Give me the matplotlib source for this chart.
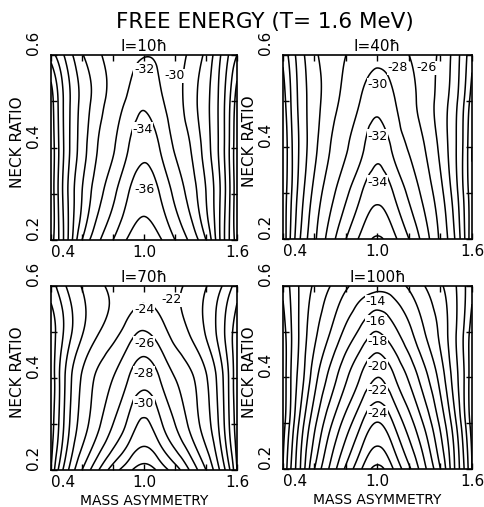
import numpy as np
import matplotlib
matplotlib.use("Agg")
import matplotlib.pyplot as plt
import matplotlib.tri as mtri

# grid (mass asymmetry across, neck ratio up)
mass_asym = [0.4, 0.45, 0.5, 0.6, 0.7, 0.8, 0.9, 1.0, 1.1, 1.2, 1.3, 1.4, 1.5, 1.55, 1.6]
neck_ratio = [0.2, 0.3, 0.4, 0.5, 0.6]

# free energy (MeV), one row per neck ratio value
energy_I10 = [
    [-17, -20, -23.3, -30, -33.5, -36, -38.3, -39.2, -38.3, -36, -33.5, -30, -23.3, -20, -17],
    [-16.5, -20.3, -23.5, -28, -31.2, -33.5, -36, -37.3, -36, -33.5, -31.2, -28, -23.5, -20.3, -16.5],
    [-16.5, -20, -23, -27, -30, -31.8, -34, -35.4, -34, -31.8, -30, -27, -23, -20, -16.5],
    [-17, -20.3, -23, -26.6, -29, -30.9, -32.4, -33.6, -32.4, -30.9, -29, -26.6, -23, -20.3, -17],
    [-21, -22.8, -24.6, -27.8, -29.6, -30.8, -31.6, -31.9, -31.6, -30.8, -29.6, -27.5, -23.8, -21.8, -20],
]
energy_I40 = [
    [-16.5, -20.3, -23.5, -27.6, -31, -34, -36.6, -38.3, -36.6, -34, -31, -27.6, -23.5, -20.3, -16.5],
    [-16.5, -19.7, -22.5, -26.6, -29.3, -31.6, -34, -35.5, -34, -31.6, -29.3, -26.6, -22.5, -19.7, -16.5],
    [-16, -19.5, -22, -25.5, -28, -29.8, -31.6, -33.3, -31.6, -29.8, -28, -25.5, -22, -19.5, -16],
    [-17, -20, -22.3, -25.2, -27.1, -28.7, -30.2, -31.3, -30.2, -28.7, -27.1, -25.2, -22.3, -20, -17],
    [-18.5, -20.8, -22.8, -25.6, -27, -28, -29, -29.4, -29, -28, -27, -25.6, -22.8, -20.8, -18.5],
]
energy_I70 = [
    [-14, -18.3, -21.3, -26, -29.7, -33, -35.4, -37, -35.4, -33, -29.7, -26, -21.3, -18.3, -14],
    [-13, -16, -19, -22.9, -25.5, -28, -30.5, -32.4, -30.5, -28, -25.5, -22.9, -19, -16, -13],
    [-12.5, -15.7, -18.5, -22.2, -24.4, -26, -28, -29.3, -28, -26, -24.4, -22.2, -18.5, -15.7, -12.5],
    [-13, -14.8, -16.8, -19.8, -21.8, -23.2, -25, -26.1, -25, -23.2, -21.8, -19.8, -16.8, -14.8, -13],
    [-15, -16.6, -18.1, -20.1, -21.5, -22.4, -22.9, -23, -22.9, -22.4, -21.5, -20.1, -18.1, -16.6, -15],
]
energy_I100 = [
    [-2, -6, -9.3, -16, -20.4, -24.4, -28, -30.6, -28, -24.4, -20.4, -16, -9.3, -6, -2],
    [-1, -4.6, -8, -13.5, -17.6, -20.9, -24, -26.1, -24, -20.9, -17.6, -13.5, -8, -4.6, -1],
    [-0.5, -4, -6.5, -11.2, -14.7, -17.7, -20.3, -22, -20.3, -17.7, -14.7, -11.2, -6.5, -4, -0.5],
    [-1, -3.8, -6, -9.5, -12, -14.5, -16.6, -18, -16.6, -14.5, -12, -9.5, -6, -3.8, -1],
    [-2.5, -4.3, -6, -8.3, -10, -11.7, -12.9, -13.3, -12.9, -11.7, -10, -8.3, -6, -4.3, -2.5],
]

spins = ["10", "40", "70", "100"]
levels = list(range(-40, 1, 2))

# contour values written on each panel
labels_I10 = ["-32", "-34", "-36", "-30"]
labels_I40 = ["-30", "-32", "-34", "-28", "-26"]
labels_I70 = ["-24", "-26", "-28", "-30", "-22"]
labels_I100 = ["-14", "-16", "-18", "-20", "-22", "-24"]

# where those numbers sit (layout only)
label_pos = [
    [(1.0, 0.568), (0.99, 0.44), (1.0, 0.31), (1.2, 0.555)],
    [(1.0, 0.535), (1.0, 0.423), (1.0, 0.323), (1.13, 0.572), (1.31, 0.572)],
    [(1.0, 0.548), (1.0, 0.475), (1.0, 0.41), (1.0, 0.345), (1.18, 0.57)],
    [(0.99, 0.566), (0.99, 0.522), (1.0, 0.478), (1.0, 0.425), (1.0, 0.371), (1.0, 0.322)],
]

plt.rcParams["contour.negative_linestyle"] = "solid"

fig = plt.figure(figsize=(4.84, 5.07), dpi=100)
fig.text(0.548, 0.957, "FREE ENERGY (T= 1.6 MeV)", ha="center", va="center", fontsize=15.5)

boxes = [
    [0.1054, 0.5266, 0.3843, 0.3649],
    [0.5847, 0.5286, 0.3905, 0.3629],
    [0.1054, 0.0730, 0.3843, 0.3629],
    [0.5847, 0.0750, 0.3905, 0.3610],
]
grids = [energy_I10, energy_I40, energy_I70, energy_I100]
texts = [labels_I10, labels_I40, labels_I70, labels_I100]

X, Y = np.meshgrid(mass_asym, neck_ratio)
tri = mtri.Triangulation(X.ravel(), Y.ravel())
refiner = mtri.UniformTriRefiner(tri)

for i in range(4):
    ax = fig.add_axes(boxes[i])
    z = np.array(grids[i], dtype=float).ravel()
    interp = mtri.CubicTriInterpolator(tri, z, kind="min_E")
    tri_f, z_f = refiner.refine_field(z, triinterpolator=interp, subdiv=4)
    ax.tricontour(tri_f, z_f, levels=levels, colors="k", linewidths=1.1, linestyles="solid")

    for txt, (lx, ly) in zip(texts[i], label_pos[i]):
        ax.text(lx, ly, txt, ha="center", va="center", fontsize=9,
                bbox=dict(facecolor="white", edgecolor="none", pad=0.4))

    ax.set_xlim(0.4, 1.6)
    ax.set_ylim(0.2, 0.6)
    ax.set_xticks([0.4, 0.6, 0.8, 1.0, 1.2, 1.4, 1.6])
    ax.set_xticklabels(["0.4", "", "", "1.0", "", "", "1.6"])
    ax.set_yticks([0.2, 0.3, 0.4, 0.5, 0.6])
    ax.set_yticklabels(["0.2", "", "0.4", "", "0.6"], rotation=90, va="bottom")
    ax.get_xticklabels()[0].set_ha("left")
    ax.tick_params(direction="in", length=4, width=1, top=True, right=True, labelsize=11)
    ax.tick_params(axis="y", pad=7)
    for s in ax.spines.values():
        s.set_linewidth(1.2)

    ax.set_title("I=" + spins[i] + "ħ", fontsize=11, pad=3)
    ax.set_ylabel("NECK RATIO", fontsize=11)
    ax.yaxis.set_label_coords(-0.14, 0.53)
    if i >= 2:
        ax.set_xlabel("MASS ASYMMETRY", fontsize=10)
        ax.xaxis.set_label_coords(0.5, -0.13)

fig.savefig("out.png", dpi=100)
